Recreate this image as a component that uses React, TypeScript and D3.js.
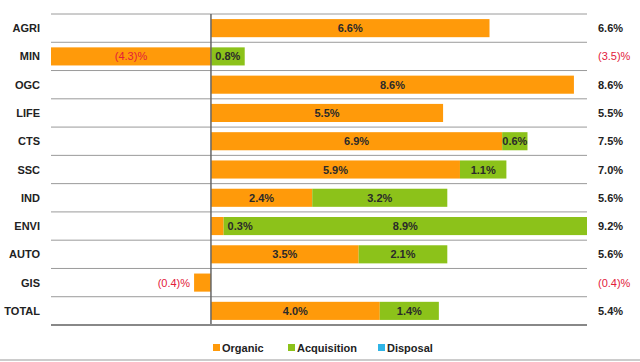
import React from 'react';
import * as d3 from 'd3';

// growth breakdown by division
const categories = ['AGRI', 'MIN', 'OGC', 'LIFE', 'CTS', 'SSC', 'IND', 'ENVI', 'AUTO', 'GIS', 'TOTAL'];
const organic = [6.6, -4.3, 8.6, 5.5, 6.9, 5.9, 2.4, 0.3, 3.5, -0.4, 4.0];
const acquisition = [0, 0.8, 0, 0, 0.6, 1.1, 3.2, 8.9, 2.1, 0, 1.4];
const disposal = [0, 0, 0, 0, 0, 0, 0, 0, 0, 0, 0];
const totals = [6.6, -3.5, 8.6, 5.5, 7.5, 7.0, 5.6, 9.2, 5.6, -0.4, 5.4];
const seriesNames = ['Organic', 'Acquisition', 'Disposal'];

const colors = ['#FF9A0A', '#8CC21A', '#2FB4E6'];
const W = 640;
const H = 362;
const left = 51;
const right = 587;
const top = 14;
const bottom = 325;

const fmt = (v: number) => (v < 0 ? `(${Math.abs(v).toFixed(1)})%` : `${v.toFixed(1)}%`);

export default function App() {
  const rows = categories.map((c, i) => ({
    cat: c,
    Organic: organic[i],
    Acquisition: acquisition[i],
    Disposal: disposal[i],
  }));
  const stacked = d3.stack<any>().keys(seriesNames).offset(d3.stackOffsetDiverging)(rows);

  const x = d3.scaleLinear().domain([-3.79, 8.91]).range([left, right]);
  const y = d3.scaleBand().domain(categories).range([top, bottom]).paddingInner(0.36).paddingOuter(0.18);
  const rowY = d3.scaleBand().domain(categories).range([top, bottom]);
  const clampX = (v: number) => Math.max(left, Math.min(right, x(v)));
  const font = 'Liberation Sans, Arial, sans-serif';

  // segments with their geometry, drawn first as bars then as labels
  const segs = stacked.flatMap((s, si) =>
    s.map((d, i) => {
      const v = (rows[i] as any)[s.key] as number;
      const x0 = clampX(Math.min(d[0], d[1]));
      const x1 = clampX(Math.max(d[0], d[1]));
      return { key: s.key + i, si, i, v, x0, x1 };
    })
  ).filter((d) => d.v !== 0);

  return (
    <svg width={W} height={H} style={{ position: 'absolute', left: 0, top: 0 }} fontFamily={font}>
      <rect width={W} height={H} fill="#fff" />
      {/* row separators */}
      {categories.map((c) => (
        <line key={c} x1={left} x2={right} y1={rowY(c)!} y2={rowY(c)!} stroke="#9a9a9a" strokeWidth={1} />
      ))}
      {segs.map((d) => (
        <rect key={d.key} x={d.x0} y={y(categories[d.i])} width={d.x1 - d.x0} height={y.bandwidth()} fill={colors[d.si]} />
      ))}
      {segs.map((d) => {
        const w = d.x1 - d.x0;
        const cy = y(categories[d.i])! + y.bandwidth() / 2;
        let tx = (d.x0 + d.x1) / 2;
        let anchor = 'middle';
        if (w < 20) {
          if (d.v > 0) { tx = d.x1 + 4; anchor = 'start'; } else { tx = d.x0 - 4; anchor = 'end'; }
        }
        return (
          <text key={d.key} x={tx} y={cy + 4} textAnchor={anchor as any} fontSize={11}
            fontWeight={d.v < 0 ? 'normal' : 'bold'} fill={d.v < 0 ? '#e2203a' : '#2a2a2a'}>
            {fmt(d.v)}
          </text>
        );
      })}
      <line x1={x(0)} x2={x(0)} y1={top} y2={bottom} stroke="#666" strokeWidth={1.5} />
      <line x1={left} x2={right} y1={bottom} y2={bottom} stroke="#888" strokeWidth={2} />
      {/* category labels */}
      {categories.map((c) => (
        <text key={c} x={40} y={y(c)! + y.bandwidth() / 2 + 4} textAnchor="end" fontSize={11} fontWeight="bold" fill="#222">
          {c}
        </text>
      ))}
      {/* totals */}
      {totals.map((t, i) => (
        <text key={i} x={598} y={y(categories[i])! + y.bandwidth() / 2 + 4} fontSize={11}
          fontWeight={t < 0 ? 'normal' : 'bold'} fill={t < 0 ? '#e2203a' : '#222'}>
          {fmt(t)}
        </text>
      ))}
      {/* legend */}
      {seriesNames.map((n, i) => {
        const lx = [213, 288, 378][i];
        return (
          <g key={n}>
            <rect x={lx} y={344} width={7} height={7} fill={colors[i]} />
            <text x={lx + 9} y={352} fontSize={11} fontWeight="bold" fill="#222">{n}</text>
          </g>
        );
      })}
      <line x1={0} x2={W} y1={360} y2={360} stroke="#ccc" strokeWidth={2} />
    </svg>
  );
}
